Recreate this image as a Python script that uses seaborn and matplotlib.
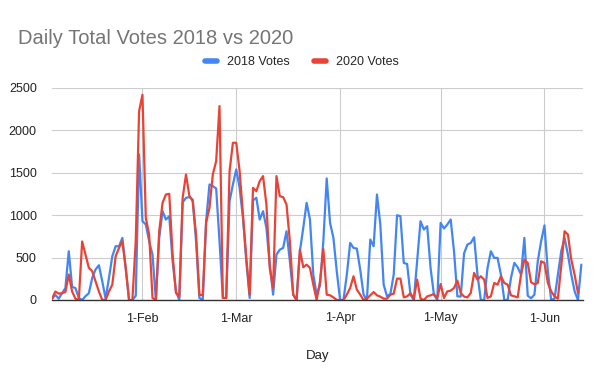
import pandas as pd
import numpy as np
import seaborn as sns
import matplotlib.pyplot as plt
import matplotlib.dates as mdates
from matplotlib.lines import Line2D

# Daily values, one per day from 5-Jan
start_day = '2018-01-05'
votes_2018 = [15, 60, 15, 80, 140, 575, 155, 140, 25, 0,
              45, 80, 260, 360, 410, 220, 15, 260, 516, 634,
              634, 732, 378, 0, 0, 50, 1716, 930, 890, 693,
              535, 0, 732, 1047, 949, 988, 457, 102, 0, 1150,
              1205, 1213, 1185, 693, 24, 0, 929, 1362, 1343, 1315,
              693, 24, 24, 1165, 1362, 1540, 1323, 968, 457, 24,
              1175, 1205, 949, 1047, 850, 417, 63, 535, 594, 614,
              811, 457, 63, 0, 575, 850, 1146, 949, 299, 63,
              170, 700, 1433, 909, 732, 339, 0, 0, 299, 673,
              614, 606, 358, 63, 0, 713, 634, 1244, 890, 181,
              43, 70, 300, 1000, 988, 437, 425, 63, 0, 457,
              929, 831, 870, 378, 63, 0, 909, 843, 890, 949,
              575, 43, 40, 550, 654, 673, 740, 299, 0, 0,
              378, 575, 496, 496, 299, 0, 0, 260, 437, 386,
              299, 732, 50, 20, 63, 457, 693, 880, 339, 0,
              16, 299, 575, 732, 535, 299, 102, 0, 417]
votes_2020 = [15, 100, 75, 80, 95, 300, 100, 15, 0, 690,
              535, 380, 340, 220, 100, 0, 0, 100, 181, 516,
              614, 693, 378, 0, 0, 700, 2228, 2420, 968, 772,
              24, 0, 811, 1146, 1244, 1252, 535, 83, 43, 1205,
              1480, 1230, 1165, 772, 63, 55, 910, 1087, 1480, 1638,
              2287, 24, 24, 1520, 1854, 1854, 1520, 1008, 496, 63,
              1323, 1283, 1402, 1461, 1126, 378, 142, 1461, 1224, 1213,
              1126, 693, 63, 0, 594, 386, 417, 378, 181, 0,
              220, 600, 63, 55, 31, 0, 0, 0, 63, 142,
              280, 122, 63, 0, 16, 55, 94, 55, 39, 16,
              16, 63, 75, 252, 252, 31, 43, 79, 16, 240,
              16, 0, 43, 55, 71, 24, 189, 24, 102, 110,
              142, 228, 83, 40, 31, 83, 319, 240, 280, 240,
              24, 43, 201, 181, 280, 201, 181, 55, 43, 31,
              299, 476, 437, 210, 185, 201, 457, 437, 201, 102,
              43, 16, 400, 811, 772, 476, 299, 83, np.nan]
series_names = ['2018 Votes', '2020 Votes']
colors = ['#4285F4', '#EA4335']
y_ticks = [0, 500, 1000, 1500, 2000, 2500]

days = pd.date_range(start_day, periods=len(votes_2018), freq='D')
df = pd.DataFrame({'Day': days, series_names[0]: votes_2018, series_names[1]: votes_2020})

sns.set_style('white')
plt.rcParams['font.family'] = ['Liberation Sans', 'DejaVu Sans']

fig = plt.figure(figsize=(6, 3.71), dpi=100)
ax = fig.add_axes([52 / 600, 1 - 300 / 371, 531 / 600, 212 / 371])

for name, col in zip(series_names, colors):
    sns.lineplot(data=df, x='Day', y=name, color=col, linewidth=1.6, ax=ax)

ax.set_ylim(0, 2500)
ax.set_xlim(days[0], days[-1] + pd.Timedelta(hours=12))
ax.set_yticks(y_ticks)
ax.set_yticklabels([str(t) for t in y_ticks])

ax.xaxis.set_major_locator(mdates.MonthLocator(bymonth=[2, 3, 4, 5, 6]))
ax.xaxis.set_major_formatter(mdates.DateFormatter('1-%b'))

ax.grid(True, color='#cccccc', linewidth=0.8)
ax.set_axisbelow(True)
for s in ['top', 'right', 'left']:
    ax.spines[s].set_visible(False)
ax.spines['bottom'].set_color('#333333')
ax.spines['bottom'].set_linewidth(1.0)
ax.tick_params(axis='both', length=0, labelsize=9, colors='#222222')
ax.tick_params(axis='y', pad=11)
ax.tick_params(axis='x', pad=9)

ax.set_xlabel('Day', fontsize=9.5, color='#222222', labelpad=18)
ax.set_ylabel('')

fig.text(18 / 600, 1 - 38 / 371, 'Daily Total Votes 2018 vs 2020', fontsize=14.5,
         color='#757575', va='center', ha='left')

handles = [Line2D([0], [0], color=c, linewidth=4) for c in colors]
fig.legend(handles, series_names, loc='center', bbox_to_anchor=(302 / 600, 1 - 62 / 371),
           ncol=2, frameon=False, fontsize=9, handlelength=0.9, handletextpad=0.8,
           columnspacing=2.0)

plt.savefig('out.png', dpi=100)
